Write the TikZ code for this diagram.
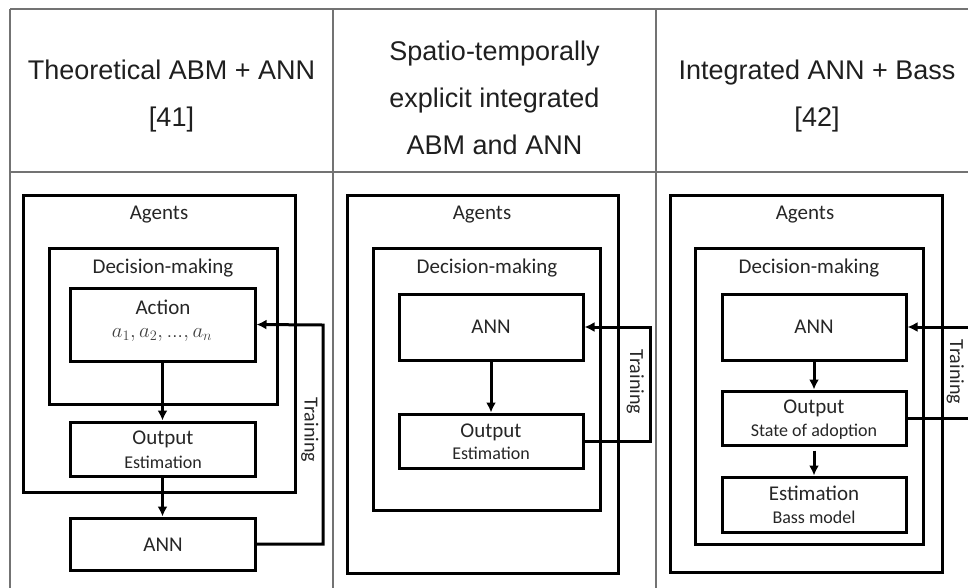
\documentclass[tikz,border=0pt]{standalone}
\usepackage{fontspec}
\setmainfont{Liberation Sans}
\newfontfamily\calibri{Carlito}
\usetikzlibrary{arrows.meta,fit}

\begin{document}
\begin{tikzpicture}[x=1pt,y=-1pt,
  grid/.style={draw=black!55, line width=1.3pt},
  head/.style={font=\fontsize{27}{32}\selectfont, text=black!88,
               text height=19.3pt, text depth=0pt, inner sep=0pt},
  box/.style={draw, line width=3pt, inner sep=0pt},
  title/.style={font=\calibri\fontsize{21}{25}\selectfont, text=black!85,
                text height=13.5pt, text depth=0pt, inner sep=0pt},
  sub/.style={font=\calibri\fontsize{18}{22}\selectfont, text=black!85,
              text height=11.6pt, text depth=0pt, inner sep=0pt},
  mathtxt/.style={font=\fontsize{21}{25}\selectfont, text=black!75, inner sep=0pt},
  train/.style={font=\calibri\fontsize{20}{24}\selectfont, text=black!85,
                text height=12.9pt, text depth=0pt, inner sep=0pt, rotate=-90},
  flow/.style={line width=3pt, -{Latex[length=10pt,width=10pt]}},
]
\useasboundingbox (0,0) rectangle (968,587);
\clip (0,0) rectangle (968,587);

% ---------- table grid ----------
\draw[grid] (10,9) -- (990,9);
\draw[grid] (10,172) -- (990,172);
\draw[grid] (10,9) -- (10,600);
\draw[grid] (333,9) -- (333,600);
\draw[grid] (656,9) -- (656,600);

% ---------- column headings ----------
\node[head] (h1a) at (171.5,70) {Theoretical ABM + ANN};
\node[head] (h1b) at (171.5,117) {[41]};
\node[head] (h2a) at (494.5,51) {Spatio-temporally};
\node[head] (h2b) at (494.5,98) {explicit integrated};
\node[head] (h2c) at (494.5,145) {ABM and ANN};
\node[head] (h3a) at (817,70) {Integrated ANN + Bass};
\node[head] (h3b) at (817,117) {[42]};

% ---------- column 1: theoretical ABM + ANN ----------
\node[box, fit={(23,195) (295,492)}] (ag1) {};
\node[title] (ag1t) at (159,213) {Agents};
\node[box, fit={(49,248) (277,404)}] (dm1) {};
\node[title] (dm1t) at (163,267) {Decision-making};
\node[box, fit={(70,288) (255,361)}] (act1) {};
\node[title] (act1t) at (163,308) {Action};
\node[mathtxt] (act1m) at (162,335)
  {$a_1, a_2, \mbox{\fontsize{17}{17}\selectfont …}, a_n$};
\node[box, fit={(70,422) (255,476)}] (out1) {};
\node[title] (out1t) at (163,438) {Output};
\node[sub] (out1s) at (163,463) {Estimation};
\node[box, fit={(70,518) (255,570)}] (ann1) {};
\node[title] (ann1t) at (163,545) {ANN};
\coordinate (t1) at (323,325);
\node[train] (tr1) at (311,430) {Training};

\draw[flow] (act1.south) -- (out1.north);
\draw[flow] (out1.south) -- (ann1.north);
\draw[flow] (ann1.east) -| (t1) -- (act1.east);

% ---------- column 2: spatio-temporally explicit ABM and ANN ----------
\node[box, fit={(347,195) (618,573)}] (ag2) {};
\node[title] (ag2t) at (482,213) {Agents};
\node[box, fit={(373,248) (600,510)}] (dm2) {};
\node[title] (dm2t) at (487,267) {Decision-making};
\node[box, fit={(399,294) (583,360)}] (ann2) {};
\node[title] (ann2t) at (491,327) {ANN};
\node[box, fit={(399,414) (583,468)}] (out2) {};
\node[title] (out2t) at (491,431) {Output};
\node[sub] (out2s) at (491,454) {Estimation};
\coordinate (t2) at (650,327);
\node[train] (tr2) at (636.5,382) {Training};

\draw[flow] (ann2.south) -- (out2.north);
\draw[flow] (out2.east) -| (t2) -- (ann2.east);

% ---------- column 3: integrated ANN + Bass ----------
\node[box, fit={(670,195) (942,572)}] (ag3) {};
\node[title] (ag3t) at (805,213) {Agents};
\node[box, fit={(695,248) (923,544)}] (dm3) {};
\node[title] (dm3t) at (809,267) {Decision-making};
\node[box, fit={(722,294) (906,360)}] (ann3) {};
\node[title] (ann3t) at (814,327) {ANN};
\node[box, fit={(722,391) (906,445)}] (out3) {};
\node[title] (out3t) at (814,407) {Output};
\node[sub] (out3s) at (814,431) {State of adoption};
\node[box, fit={(722,477) (906,532)}] (est3) {};
\node[title] (est3t) at (814,494) {Estimation};
\node[sub] (est3s) at (814,518) {Bass model};
\coordinate (t3) at (985,327);
\node[train] (tr3) at (956.5,372) {Training};

\draw[flow] (ann3.south) -- (out3.north);
\draw[flow, shorten <=4pt] (out3.south) -- (est3.north);
\draw[flow] (out3.east) -| (t3) -- (ann3.east);
\end{tikzpicture}
\end{document}
